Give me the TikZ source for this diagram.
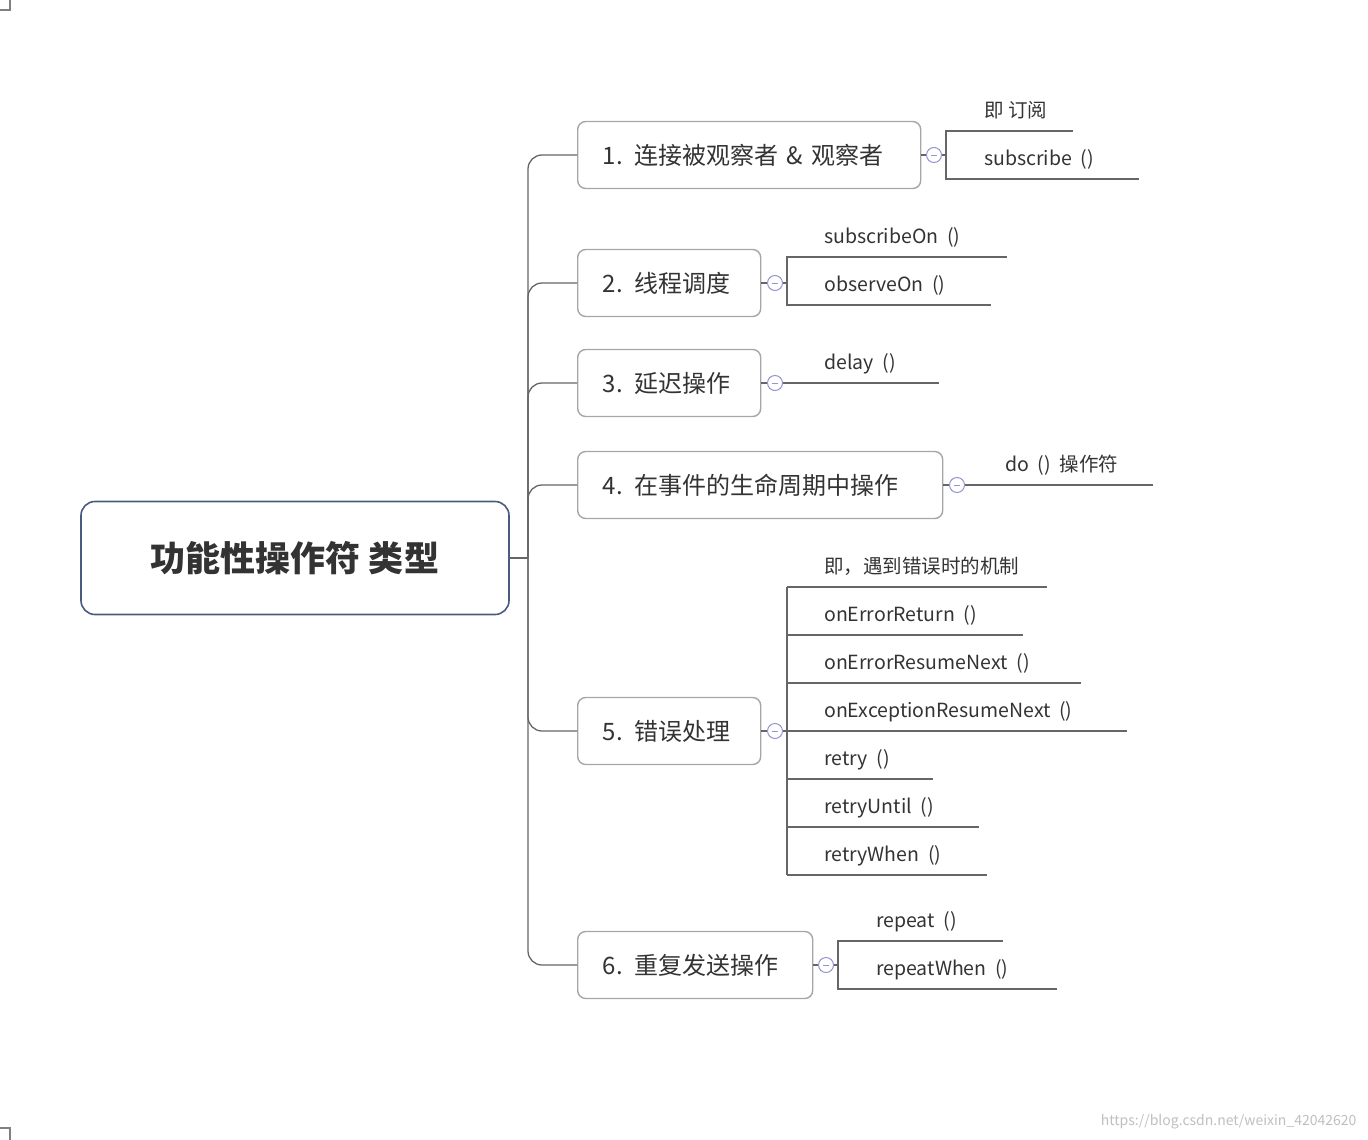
\documentclass[tikz,border=0pt]{standalone}
\usepackage{fontspec}
\setmainfont{Noto Sans CJK SC}
\begin{document}
\begin{tikzpicture}[x=1pt,y=-1pt,
  rootbox/.style={draw=rootc,line width=1.6pt,rounded corners=14pt,minimum width=428pt,minimum height=113pt,font=\fontsize{35}{38}\selectfont\bfseries,text=textc},
  brbox/.style={draw=gray!70,line width=1.4pt,rounded corners=8pt,minimum height=67pt,anchor=west,font=\fontsize{24}{26}\selectfont,text=textc,align=left,inner xsep=25pt,text width=#1},
  conn/.style={draw=gray!80!black,line width=1.3pt},
  coll/.style={draw=blue!40!gray!60,fill=white,line width=1pt,circle,minimum size=15pt,inner sep=0pt},
  lab/.style={anchor=base west,font=\fontsize{19.5}{22}\selectfont,text=textc,inner sep=0pt}]
\definecolor{rootc}{HTML}{4A5A80}
\definecolor{textc}{HTML}{333333}
\useasboundingbox (0,0) rectangle (1368,1140);
\draw[gray,line width=1.2pt] (0,10)--(10,10)--(10,0);
\draw[gray,line width=1.2pt] (0,1128)--(10,1128)--(10,1140);
\node[rootbox] (root) at (295,558) {功能性操作符 类型};
\node[brbox=293pt] (b1) at (577,155) {1. 连接被观察者 \& 观察者};
\node[brbox=133pt] (b2) at (577,283) {2. 线程调度};
\node[brbox=133pt] (b3) at (577,383) {3. 延迟操作};
\node[brbox=315pt] (b4) at (577,485) {4. 在事件的生命周期中操作};
\node[brbox=133pt] (b5) at (577,731) {5. 错误处理};
\node[brbox=185pt] (b6) at (577,965) {6. 重复发送操作};
\coordinate (t) at (528,558);
\draw[conn] (root.east) -- (t);
\foreach \b in {b1,b2,b3,b4,b5,b6}{
  \draw[conn,rounded corners=14pt] (t) -- (t |- \b.west) -- (\b.west);
}
% branch 1
\draw[conn] (b1.east) -- (946,155);
\draw[conn] (1073,131) -- (946,131) -- (946,179) -- (1139,179);
\node[coll] (c1) at (934,155) {\textcolor{blue!40!gray!60}{\rule{6pt}{0.8pt}}};
\node[lab] (l11) at (984,117) {即 订阅};
\node[lab] (l12) at (984,165) {subscribe\ \ ()};
% branch 2
\draw[conn] (b2.east) -- (787,283);
\draw[conn] (1007,257) -- (787,257) -- (787,305) -- (991,305);
\node[coll] (c2) at (775,283) {\textcolor{blue!40!gray!60}{\rule{6pt}{0.8pt}}};
\node[lab] (l21) at (824,243) {subscribeOn\ \ ()};
\node[lab] (l22) at (824,291) {observeOn\ \ ()};
% branch 3
\draw[conn] (b3.east) -- (939,383);
\node[coll] (c3) at (775,383) {\textcolor{blue!40!gray!60}{\rule{6pt}{0.8pt}}};
\node[lab] (l31) at (824,369) {delay\ \ ()};
% branch 4
\draw[conn] (b4.east) -- (1153,485);
\node[coll] (c4) at (957,485) {\textcolor{blue!40!gray!60}{\rule{6pt}{0.8pt}}};
\node[lab] (l41) at (1005,471) {do\ \ ()\ \ 操作符};
% branch 5
\draw[conn] (b5.east) -- (787,731);
\draw[conn] (787,587) -- (787,875);
\foreach \y/\e/\t in {587/1047/{即，遇到错误时的机制},635/1023/{onErrorReturn\ \ ()},683/1081/{onErrorResumeNext\ \ ()},731/1127/{onExceptionResumeNext\ \ ()},779/933/{retry\ \ ()},827/979/{retryUntil\ \ ()},875/987/{retryWhen\ \ ()}}{
  \draw[conn] (787,\y) -- (\e,\y);
  \node[lab] at (824,\y-14) {\t};
}
\node[coll] (c5) at (775,731) {\textcolor{blue!40!gray!60}{\rule{6pt}{0.8pt}}};
% branch 6
\draw[conn] (b6.east) -- (838,965);
\draw[conn] (1003,941) -- (838,941) -- (838,989) -- (1057,989);
\node[coll] (c6) at (826,965) {\textcolor{blue!40!gray!60}{\rule{6pt}{0.8pt}}};
\node[lab] (l61) at (876,927) {repeat\ \ ()};
\node[lab] (l62) at (876,975) {repeatWhen\ \ ()};
\node[anchor=east,font=\fontsize{14}{16}\selectfont,text=gray!50] (wm) at (1360,1122) {https://blog.csdn.net/weixin\_42042620};
\end{tikzpicture}
\end{document}
